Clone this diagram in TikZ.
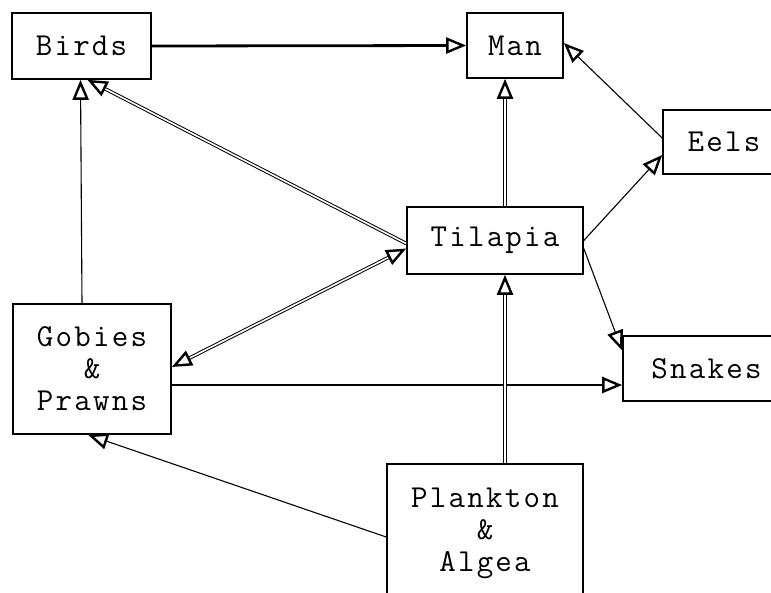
\documentclass[tikz,border=0pt]{standalone}
\usepackage{fontspec}
\setmonofont{Latin Modern Mono}[LetterSpace=7]
\usetikzlibrary{arrows.meta}
\begin{document}
\begin{tikzpicture}[x=1pt,y=-1pt,
  box/.style={draw, line width=1.6pt, rectangle, inner sep=0pt, align=center,
    font=\fontsize{32pt}{32pt}\selectfont\ttfamily},
  thin/.style={line width=1.1pt, -{Triangle[open,length=20pt,width=16pt,line width=2.4pt]}},
  thick/.style={line width=2.8pt, -{Triangle[open,length=20pt,width=16pt,line width=2.4pt]}},
  dbl/.style={double, line width=1pt, double distance=1.6pt, -{Triangle[open,length=20pt,width=16pt,line width=2.4pt]}},
  dblboth/.style={double, line width=1pt, double distance=1.6pt, {Triangle[open,length=20pt,width=16pt,line width=2.4pt]}-{Triangle[open,length=20pt,width=16pt,line width=2.4pt]}}]
\useasboundingbox (0,0) rectangle (771,592);
\begin{scope}
\clip (0,0) rectangle (771,592);
\node[box, minimum width=139pt, minimum height=66pt] (birds) at (81.5,46) {Birds};
\node[box, minimum width=96pt, minimum height=65pt] (man) at (515,45.5) {Man};
\node[box, minimum width=122pt, minimum height=64pt] (eels) at (724,142) {Eels};
\node[box, minimum width=176pt, minimum height=67pt] (tilapia) at (495,240.5) {Tilapia};
\node[box, minimum width=158pt, minimum height=130pt] (gobies) at (92,369) {Gobies\\\&\\Prawns};
\node[box, minimum width=167pt, minimum height=65pt] (snakes) at (706.5,368.5) {Snakes};
\node[box, minimum width=196pt, minimum height=156pt, text depth=24pt] (plankton) at (485,542) {Plankton\\\&\\Algea};
\end{scope}
\draw[thick] (birds.east) -- (man.west);
\draw[dbl] ([xshift=10pt]tilapia.north) -- ([xshift=-10pt]man.south);
\draw[thin] ([yshift=4pt]eels.west) -- ([yshift=2.5pt]man.east);
\draw[thin] (tilapia.east) -- ([yshift=-13pt]eels.west);
\draw[thin] ([yshift=-8pt]tilapia.east) -- ([yshift=18pt]snakes.west);
\draw[thin] ([yshift=-16pt]gobies.east) -- ([yshift=-16.5pt]snakes.west);
\draw[dbl] ([yshift=-3pt]tilapia.west) -- ([xshift=6pt]birds.south);
\draw[dblboth] ([yshift=-8pt]tilapia.west) -- ([yshift=2pt]gobies.east);
\draw[thin] ([xshift=-10pt]gobies.north) -- ([xshift=-1pt]birds.south);
\draw[thin] ([yshift=5pt]plankton.west) -- ([xshift=-4pt]gobies.south);
\draw[dbl] ([xshift=20pt]plankton.north) -- ([xshift=10pt]tilapia.south);
\end{tikzpicture}
\end{document}
